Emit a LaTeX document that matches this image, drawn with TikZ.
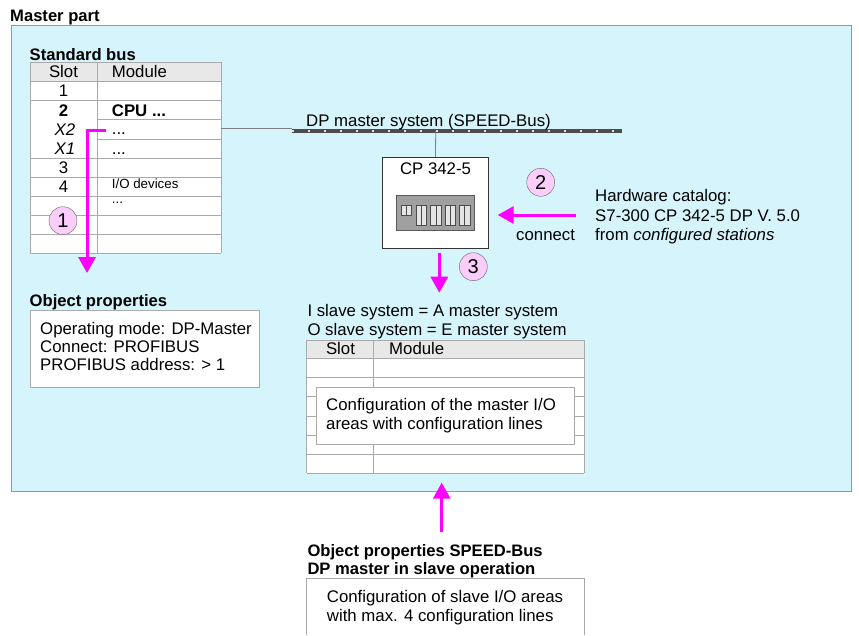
\documentclass[tikz,border=0pt]{standalone}
\usepackage{fontspec}
\setmainfont{Liberation Sans}
\usetikzlibrary{arrows.meta}
\definecolor{panel}{RGB}{214,244,252}
\definecolor{panelline}{RGB}{150,150,150}
\definecolor{tline}{RGB}{170,170,170}
\definecolor{hdr}{RGB}{232,232,232}
\definecolor{numpink}{RGB}{250,205,250}
\definecolor{devgray}{RGB}{160,160,160}
\definecolor{slotgray}{RGB}{228,228,228}
\definecolor{arrowpink}{RGB}{255,0,255}

\begin{document}
\begin{tikzpicture}[x=1pt,y=-1pt,
  txt/.style={anchor=base west,inner sep=0pt,font=\fontsize{16.8}{18}\selectfont},
  ctxt/.style={txt,anchor=base},
  btxt/.style={txt,font=\fontsize{16.6}{18}\selectfont\bfseries},
  sm/.style={anchor=base west,inner sep=0pt,font=\fontsize{13.3}{15}\selectfont},
  grid/.style={draw=tline,line width=1pt},
  pbox/.style={draw=tline,fill=white,line width=1pt},
  numc/.style={circle,draw=gray!80!black,fill=numpink,minimum size=28pt,inner sep=0pt,font=\fontsize{20}{20}\selectfont},
  pk/.style={draw=arrowpink,line width=3pt,-{Triangle[length=16pt,width=17pt]}}]
\useasboundingbox (0,0) rectangle (859,635);

\node[btxt] (title) at (10,21) {Master part};
\draw[fill=panel,draw=panelline,line width=1pt] (11,25) rectangle (851.7,491.7);

% standard bus table
\node[btxt] (stdbus) at (29.5,60) {Standard bus};
\fill[hdr] (30,62.3) rectangle (221,81.7);
\fill[white] (30,81.7) rectangle (221,253.3);
\foreach \y in {62.3,81.7,100.7,158.3,177.3,196.7,215.7,234.3,253.3}
  \draw[grid] (30,\y) -- (221,\y);
\foreach \y in {119.3,139.3}
  \draw[grid] (97,\y) -- (221,\y);
\foreach \x in {30,97,221}
  \draw[grid] (\x,62.3) -- (\x,253.3);
\node[ctxt] (hslot) at (63.5,77.3) {Slot};
\node[txt] (hmod) at (111.7,77.3) {Module};
\node[ctxt] (s1) at (63.5,96.2) {1};
\node[ctxt,font=\fontsize{16.8}{18}\selectfont\bfseries] (s2) at (63.5,116) {2};
\node[txt,font=\fontsize{16.8}{18}\selectfont\bfseries] (cpu) at (111.7,116) {CPU ...};
\node[ctxt,font=\fontsize{16.8}{18}\selectfont\itshape] (sx2) at (65,135) {X2};
\node[txt] (mx2) at (111.7,134) {...};
\node[ctxt,font=\fontsize{16.8}{18}\selectfont\itshape] (sx1) at (65,154.5) {X1};
\node[txt] (mx1) at (111.7,154.5) {...};
\node[ctxt] (s3) at (63.5,173.3) {3};
\node[ctxt] (s4) at (63.5,192.7) {4};
\node[sm] (io) at (111.7,188.3) {I/O devices};
\node[sm] (iodots) at (111.7,203) {...};
\node[numc] (n1) at (63,220.7) {1};

% bus
\coordinate (busl) at (292,131);
\coordinate (busr) at (622,131);
\coordinate (tap) at (435.7,131);
\draw[line width=0.8pt,color=gray] (221,128.3) -- (292,128.3);
\draw[line width=4pt,color=gray!60!black] (busl) -- (busr);
\draw[line width=1.4pt,color=gray!25,dash pattern=on 1.5pt off 14.5pt] (busl) -- (busr);
\node[txt] (buslabel) at (306,126) {DP master system (SPEED-Bus)};

% CP module
\node[draw=gray!40!black,fill=white,line width=1pt,minimum width=105.6pt,minimum height=90.6pt] (cp) at (435.5,203) {};
\draw[line width=0.8pt,color=gray] (tap) -- (cp.north);
\node[ctxt] (cplabel) at (435.5,174) {CP 342-5};
\draw[fill=devgray,draw=gray!70!black,line width=0.8pt] (396.7,195) rectangle (474,230);
\draw[fill=slotgray,draw=gray!60!black,line width=0.6pt] (401.7,205) rectangle (411.7,215.7);
\draw[draw=gray!60!black,line width=0.6pt] (406.7,205) -- (406.7,215.7);
\foreach \x in {416,430.7,445,459.3}{
  \draw[fill=slotgray,draw=gray!60!black,line width=0.6pt] (\x,205) rectangle ({\x+10.7},225);
  \draw[draw=gray!60!black,line width=0.6pt] ({\x+5.3},205) -- ({\x+5.3},225);
}

\node[numc] (n2) at (540.7,182.3) {2};
\coordinate (a2s) at (575.7,215);
\coordinate (a2e) at (497.7,215);
\draw[pk] (a2s) -- (a2e);
\node[txt] (conn) at (516,240) {connect};
\node[txt] (hw1) at (595,201.5) {Hardware catalog:};
\node[txt] (hw2) at (595,221) {S7-300 CP 342-5 DP V. 5.0};
\node[txt] (hw3) at (595,240) {from \textit{configured stations}};

\coordinate (a3e) at (439.3,292.7);
\draw[pk] (cp.south -| a3e) ++(0,4) -- (a3e);
\node[numc] (n3) at (473.3,266.7) {3};

% slave system table
\node[txt] (isl) at (307.3,316) {I slave system = A master system};
\node[txt] (osl) at (307.3,335) {O slave system = E master system};
\fill[hdr] (306.7,340) rectangle (584.3,358.3);
\fill[white] (306.7,358.3) rectangle (584.3,473.3);
\foreach \y in {340,358.3,377.7,396.7,416,435.3,454.3,473.3}
  \draw[grid] (306.7,\y) -- (584.3,\y);
\foreach \x in {306.7,373.3,584.3}
  \draw[grid] (\x,340) -- (\x,473.3);
\node[ctxt] (hslot2) at (340.5,354) {Slot};
\node[txt] (hmod2) at (389,354) {Module};
\draw[pbox] (316.7,387.7) rectangle (574.3,444.3);
\node[txt] (cfg1) at (326,410.7) {Configuration of the master I/O};
\node[txt] (cfg2) at (326,429.3) {areas with configuration lines};

% object properties
\node[btxt] (objp) at (29.5,306) {Object properties};
\draw[pbox] (30,310.7) rectangle (259,387.3);
\node[txt] (op1) at (40,334) {Operating mode: DP-Master};
\node[txt] (op2) at (40,352.3) {Connect: PROFIBUS};
\node[txt] (op3) at (40,370.7) {PROFIBUS address: > 1};

\coordinate (a1e) at (87,273);
\draw[pk] (106,130) -| (a1e);

% speed-bus properties
\coordinate (a4s) at (441.7,531.7);
\coordinate (a4e) at (441.7,482.7);
\draw[pk] (a4s) -- (a4e);
\node[btxt] (sp1) at (307.3,556.7) {Object properties SPEED-Bus};
\node[btxt] (sp2) at (307.3,574) {DP master in slave operation};
\fill[white] (306.7,578.3) rectangle (584.3,635);
\draw[draw=tline,line width=1pt] (306.7,635) -- (306.7,578.3) -- (584.3,578.3) -- (584.3,635);
\node[txt] (sc1) at (326.7,602.7) {Configuration of slave I/O areas};
\node[txt] (sc2) at (326.7,621.7) {with max. 4 configuration lines};
\end{tikzpicture}
\end{document}
